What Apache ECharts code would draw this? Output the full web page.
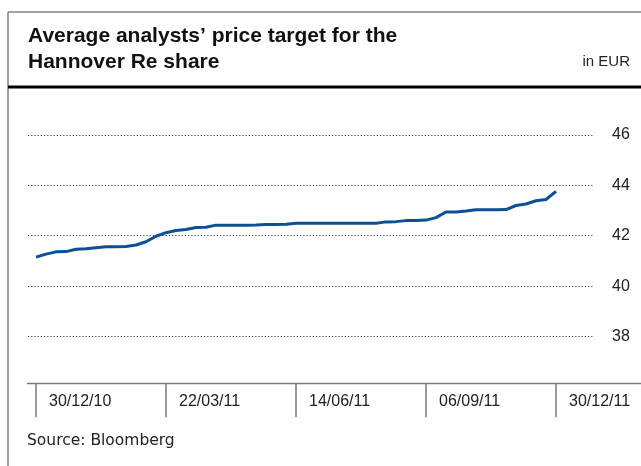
<!DOCTYPE html>
<html>
<head>
<meta charset="utf-8">
<script src="https://cdn.jsdelivr.net/npm/echarts@6/dist/echarts.min.js"></script>
<style>
  html, body { margin: 0; padding: 0; background: #fff; }
  #chart { width: 641px; height: 466px; }
</style>
</head>
<body>
<div id="chart"></div>
<script>
// weekly index, 0 = 30/12/10 ... 52 = 30/12/11
const tickLabels = ["30/12/10", "22/03/11", "14/06/11", "06/09/11", "30/12/11"];
const tickWeeks = [0, 13, 26, 39, 52];
const yTicks = [38, 40, 42, 44, 46];
const priceTarget = [
  41.15, 41.27, 41.36, 41.37, 41.46, 41.48, 41.52, 41.56, 41.56, 41.57,
  41.63, 41.76, 41.98, 42.12, 42.21, 42.25, 42.33, 42.34, 42.42, 42.42,
  42.42, 42.42, 42.43, 42.45, 42.45, 42.46, 42.50, 42.50, 42.50, 42.50,
  42.50, 42.50, 42.50, 42.50, 42.50, 42.55, 42.56, 42.60, 42.60, 42.62,
  42.72, 42.94, 42.94, 42.98, 43.03, 43.03, 43.03, 43.04, 43.20, 43.26,
  43.39, 43.44, 43.76
];

const chart = echarts.init(document.getElementById("chart"));
chart.setOption({
  animation: false,
  textStyle: { fontFamily: "Liberation Sans" },
  graphic: [
    // frame
    { type: "line", shape: { x1: 8, y1: 12, x2: 641, y2: 12 }, style: { stroke: "#808080", lineWidth: 1.5 } },
    { type: "line", shape: { x1: 8, y1: 12, x2: 8, y2: 466 }, style: { stroke: "#808080", lineWidth: 1.5 } },
    { type: "line", shape: { x1: 8, y1: 87, x2: 641, y2: 87 }, style: { stroke: "#000", lineWidth: 3 } },
    // long baseline under the plot
    { type: "line", shape: { x1: 27, y1: 383.5, x2: 641, y2: 383.5 }, style: { stroke: "#7a7a7a", lineWidth: 1.5 } },
    {
      type: "text", left: 28, top: 23,
      style: {
        text: "Average analysts’ price target for the\nHannover Re share",
        font: "bold 21px 'Liberation Sans'", fill: "#111", lineHeight: 26
      }
    },
    {
      type: "text", right: 11, top: 54,
      style: { text: "in EUR", font: "15px 'Liberation Sans'", fill: "#222" }
    },
    {
      type: "text", left: 27, top: 433,
      style: { text: "Source: Bloomberg", font: "15.5px 'DejaVu Sans'", fill: "#222" }
    }
  ],
  grid: { left: 28, right: 48, top: 135, bottom: 82.7 },
  xAxis: {
    type: "value",
    min: -0.8,
    max: 55.7,
    axisLine: { show: false },
    axisTick: {
      show: true, customValues: tickWeeks, length: 34,
      lineStyle: { color: "#7a7a7a", width: 1.5 }
    },
    axisLabel: {
      customValues: tickWeeks,
      align: "left",
      margin: 10,
      padding: [0, 0, 0, 13],
      fontSize: 16,
      color: "#222",
      formatter: v => tickLabels[tickWeeks.indexOf(v)]
    },
    splitLine: { show: false }
  },
  yAxis: {
    type: "value",
    position: "right",
    min: 36.14,
    max: 46,
    axisLine: { show: false },
    axisTick: { show: false, customValues: yTicks },
    axisLabel: { customValues: yTicks, margin: 19, fontSize: 16, color: "#222" },
    splitLine: { show: true, lineStyle: { color: "#333", type: [1.2, 2], width: 1.2 } }
  },
  series: [{
    type: "line",
    data: priceTarget.map((v, i) => [i, v]),
    showSymbol: false,
    lineStyle: { color: "#0b4f94", width: 3 }
  }]
});
</script>
</body>
</html>
